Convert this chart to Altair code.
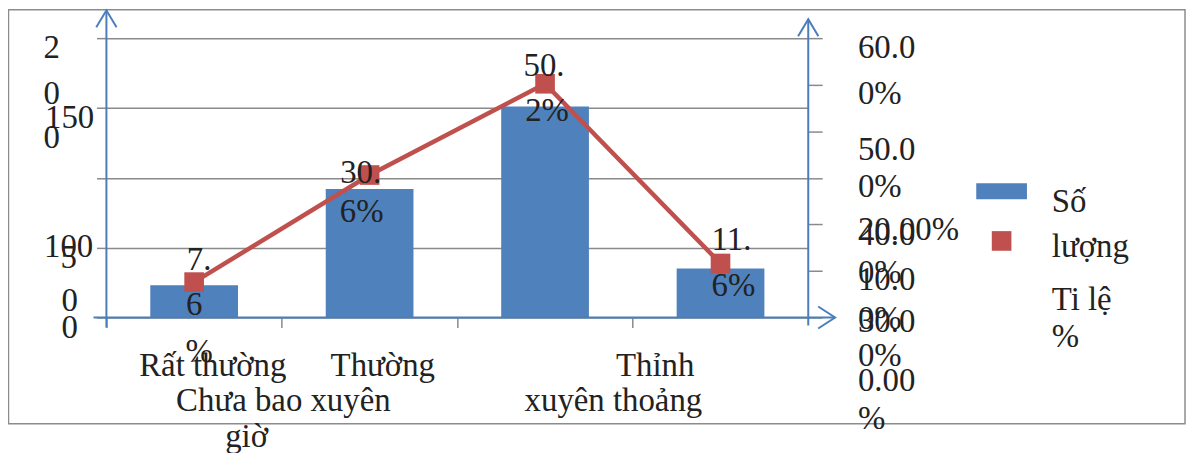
import altair as alt
import pandas as pd

# ---------------- data ----------------
categories = ["Rất thường xuyên", "Thường xuyên", "Thỉnh thoảng", "Chưa bao giờ"]
counts = [23, 92, 151, 35]
percents = [7.6, 30.6, 50.2, 11.6]

count_ticks = [0, 50, 100, 150, 200]
percent_ticks = [0, 10, 20, 30, 40, 50, 60]

# data labels of the line, as wrapped in the picture
point_label_text = ["7.", "6", "%", "30.", "6%", "50.", "2%", "11.", "6%"]
point_label_cat = [0, 0, 0, 1, 1, 2, 2, 3, 3]

# left axis labels (wrapped / overlapping as in the picture)
left_label_text = ["2", "0", "0", "150", "100", "5", "0", "0"]
# right axis labels
right_label_text = ["60.0", "0%", "50.0", "0%", "40.0", "20.00%", "0%", "10.0",
                    "30.0", "0%", "0%", "0.00", "%"]
# category labels (wrapped pieces)
cat_label_text = ["Rất thường", "Thường", "Thỉnh", "Chưa bao xuyên", "xuyên thoảng", "giờ"]
# legend
legend_text = ["Số", "lượng", "Ti lệ", "%"]

# ---------------- layout (pixels, plot-area coordinates) ----------------
W, H = 706, 281
point_label_dx = [5, 0, 5, -9, -8, -1, 2, 11, 13]
point_label_dy = [-12, 33, 80, 8, 47, -8, 37, -14, 33]
left_label_x = [-55, -55, -55, -37, -38, -38, -37, -37]
left_label_y = [20, 66, 111, 90, 220, 231, 274, 302]
right_label_x = [756] * len(right_label_text)
right_label_y = [20, 66, 123, 160, 208, 203, 246, 253, 296, 293, 330, 355, 393]
cat_label_x = [107, 278, 552, 178, 510, 141]
cat_label_y = [340, 340, 340, 375, 375, 411]
legend_x = [951] * 4
legend_y = [175, 220, 273, 311]

FONT = "Times New Roman, Liberation Serif, DejaVu Serif, serif"
FS = 33
TXT = "#222222"
BAR = "#4f81bd"
RED = "#c0504d"
BLUE = "#4a7ebb"
GRID = "#8a8a8a"
PCT_MAX = 60
HALF_BAND = W / len(categories) / 2

df = pd.DataFrame({"cat": categories, "count": counts, "pct": percents})
lab = pd.DataFrame({
    "t": point_label_text,
    "cat": [categories[i] for i in point_label_cat],
    "pct": [percents[i] - dy * PCT_MAX / H for i, dy in zip(point_label_cat, point_label_dy)],
    "dx": [d + HALF_BAND for d in point_label_dx],
})
dummy = pd.DataFrame({"a": [0]})

xenc = alt.X("cat:N", sort=categories,
             scale=alt.Scale(paddingInner=0, paddingOuter=0),
             axis=alt.Axis(labels=False, title=None, domain=False, grid=False,
                           ticks=True, tickColor=GRID, tickSize=10, tickWidth=1.5,
                           bandPosition=0))

ycount = alt.Y("count:Q", scale=alt.Scale(domain=[0, 200], nice=False),
               axis=alt.Axis(values=count_ticks, orient="left", labels=False, title=None,
                             domain=False, tickColor=GRID, tickSize=10, tickWidth=1.5,
                             grid=True, gridColor=GRID, gridWidth=1.5))

ypct = alt.Y("pct:Q", scale=alt.Scale(domain=[0, PCT_MAX], nice=False),
             axis=alt.Axis(values=percent_ticks, orient="right", labels=False, title=None,
                           domain=False, tickColor=GRID, tickSize=14, tickWidth=1.5,
                           grid=False))

bars = alt.Chart(df).mark_bar(color=BAR, width=alt.RelativeBandSize(0.5)).encode(
    x=xenc, y=ycount)

line = alt.Chart(df).mark_line(color=RED, strokeWidth=4.5).encode(x=xenc, y=ypct)
points = alt.Chart(df).mark_point(shape="square", filled=True, color=RED, size=390,
                                  opacity=1).encode(x=xenc, y=ypct)
ptext = alt.Chart(lab).mark_text(font=FONT, fontSize=FS, align="center",
                                 baseline="alphabetic", color=TXT).encode(
    x=xenc, y=ypct,
    xOffset=alt.XOffset("dx:Q", scale=None),
    text="t:N")

main = alt.layer(bars, alt.layer(line, points, ptext)).resolve_scale(y="independent")


def text_layer(texts, xs, ys, align):
    d = pd.DataFrame({"t": texts, "px": xs, "py": ys})
    return alt.Chart(d).mark_text(font=FONT, fontSize=FS, align=align,
                                  baseline="alphabetic", color=TXT).encode(
        x=alt.X("px:Q", scale=None, axis=None),
        y=alt.Y("py:Q", scale=None, axis=None),
        text="t:N")


left_labels = text_layer(left_label_text, left_label_x, left_label_y, "center")
right_labels = text_layer(right_label_text, right_label_x, right_label_y, "left")
cat_labels = text_layer(cat_label_text, cat_label_x, cat_label_y, "center")
legend_labels = text_layer(legend_text, legend_x, legend_y, "left")

base = alt.Chart(dummy)
border = base.mark_rect(fill="transparent", stroke="#8c8c8c", strokeWidth=1.5).encode(
    x=alt.value(-98.5), x2=alt.value(1085), y=alt.value(-28.5), y2=alt.value(388))

v_left = base.mark_rule(color=BLUE, strokeWidth=2).encode(
    x=alt.value(0), y=alt.value(-28), y2=alt.value(291))
v_right = base.mark_rule(color=BLUE, strokeWidth=2).encode(
    x=alt.value(W), y=alt.value(-19), y2=alt.value(289))
h_base = base.mark_rule(color=BLUE, strokeWidth=2).encode(
    x=alt.value(-13), x2=alt.value(733), y=alt.value(H))

up_arrow = "M -0.6 1 L 0 0 L 0.6 1"
right_arrow = "M -1 -0.65 L 0 0 L -1 0.65"
arr_left = base.mark_point(shape=up_arrow, filled=False, color=BLUE, strokeWidth=2,
                           size=1156, opacity=1).encode(x=alt.value(0), y=alt.value(-28))
arr_right = base.mark_point(shape=up_arrow, filled=False, color=BLUE, strokeWidth=2,
                            size=1156, opacity=1).encode(x=alt.value(W), y=alt.value(-19))
arr_base = base.mark_point(shape=right_arrow, filled=False, color=BLUE, strokeWidth=2,
                           size=1156, opacity=1).encode(x=alt.value(733), y=alt.value(H))

leg_bar = base.mark_rect(color=BAR).encode(
    x=alt.value(875), x2=alt.value(926), y=alt.value(146), y2=alt.value(162))
leg_pt = base.mark_point(shape="square", filled=True, color=RED, size=390, opacity=1).encode(
    x=alt.value(900.5), y=alt.value(204))

chart = alt.layer(
    border, main, v_left, v_right, h_base, arr_left, arr_right, arr_base,
    left_labels, right_labels, cat_labels, leg_bar, leg_pt, legend_labels
).properties(
    width=W, height=H,
    padding={"left": 99, "top": 29, "right": 381, "bottom": 135},
    autosize=alt.AutoSizeParams(type="none"),
).configure_view(stroke=None)

chart.save("out.html", embed_options={"renderer": "svg", "actions": False})
